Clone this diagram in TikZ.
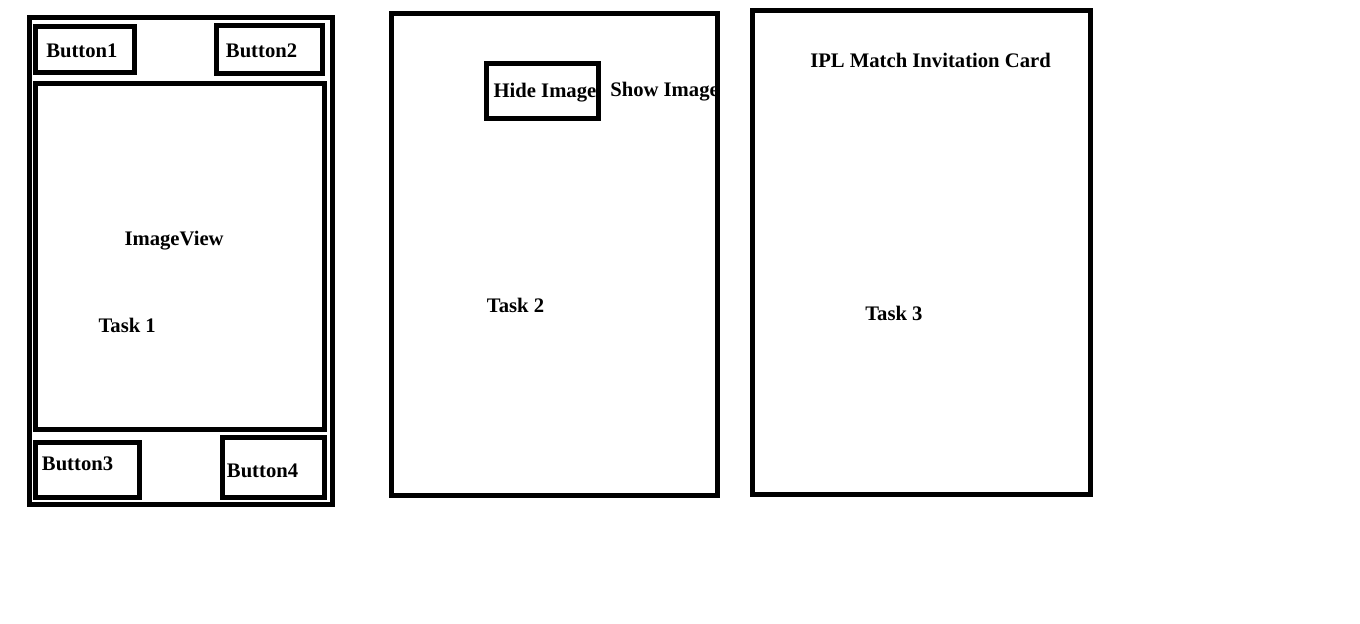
\documentclass[tikz,border=0pt]{standalone}
\usepackage{fontspec}
\setmainfont{Liberation Serif}
\begin{document}
\begin{tikzpicture}[x=0.75pt,y=-0.75pt]\fontsize{15.5}{18}\selectfont\bfseries
      \tikzstyle{frame}=[draw,line width=3.75pt]
      \tikzstyle{label}=[anchor=base west,inner sep=0pt]
      \useasboundingbox (0,0) rectangle (1360,624);
      % task 1
      \draw[frame] (29,17.5) rectangle (332.5,504.5);
      \draw[frame] (35.5,27) rectangle (134.5,73);
      \draw[frame] (216.5,26) rectangle (322,74);
      \draw[frame] (35.5,84) rectangle (324,429);
      \draw[frame] (35.5,442.5) rectangle (139,497.5);
      \draw[frame] (222.5,437.5) rectangle (324,497);
      \node[label] (b1) at (46,57.5) {Button1};
      \node[label] (b2) at (225.7,57.5) {Button2};
      \node[label] (iv) at (124.3,245) {ImageView};
      \node[label] (t1) at (98.3,332.5) {Task 1};
      \node[label] (b3) at (41.7,470.5) {Button3};
      \node[label] (b4) at (226.7,477.5) {Button4};
      % task 2
      \draw[frame] (391.7,14) rectangle (717.5,495);
      \draw[frame] (486,63.5) rectangle (598.3,119);
      \node[label] (hide) at (493.3,98) {Hide Image};
      \node[label] (show) at (610,96.5) {Show Image};
      \node[label] (t2) at (486.7,312) {Task 2};
      % task 3
      \draw[frame] (752.5,11) rectangle (1090.5,494);
      \node[label] (ipl) at (810,67.5) {IPL Match Invitation Card};
      \node[label] (t3) at (865,320.5) {Task 3};
\end{tikzpicture}
\end{document}
